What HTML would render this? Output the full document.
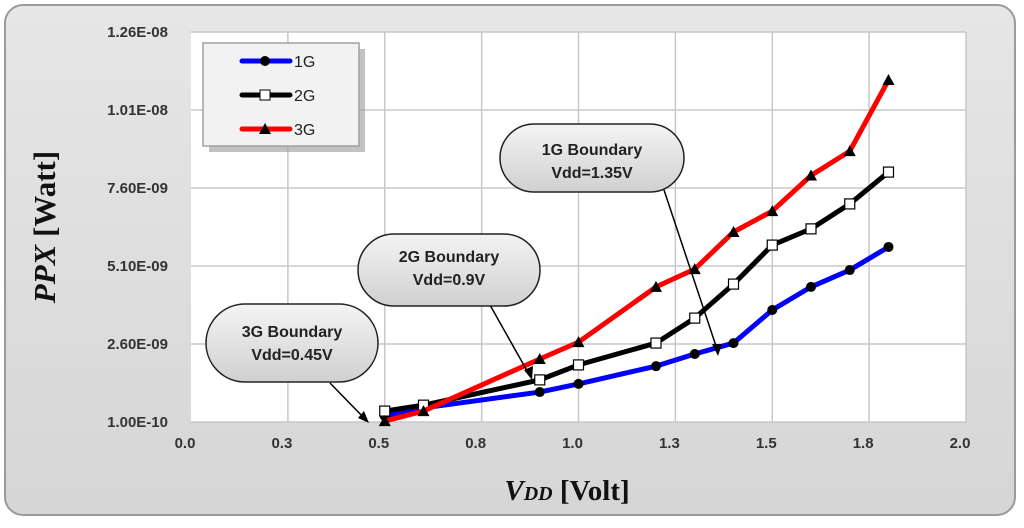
<!DOCTYPE html>
<html><head><meta charset="utf-8"><style>
body{margin:0;background:#fff;width:1024px;height:523px;overflow:hidden;font-family:"Liberation Sans",sans-serif}
</style></head><body>
<svg width="1024" height="523" viewBox="0 0 1024 523">
<defs>
<linearGradient id="bg" x1="0" y1="0" x2="0" y2="1"><stop offset="0" stop-color="#e6e6e6"/><stop offset="1" stop-color="#d6d6d6"/></linearGradient>
<linearGradient id="cb" x1="0" y1="0" x2="0" y2="1"><stop offset="0" stop-color="#f4f4f4"/><stop offset="1" stop-color="#d0d0d0"/></linearGradient>
</defs>
<rect x="5" y="5" width="1010" height="510" rx="18" fill="url(#bg)" stroke="#9a9a9a" stroke-width="2"/>
<rect x="191" y="32" width="775" height="390" fill="#fff"/>
<g id="grid"></g>
<g id="axes"></g>
<g id="series"></g>
<g>
<rect x="206" y="46" width="156" height="103" fill="#9a9a9a" transform="translate(3,3)" opacity="0.6"/>
<rect x="203" y="43" width="156" height="103" fill="#f2f2f2" stroke="#a0a0a0" stroke-width="1.5"/>
<g><line x1="242" y1="61" x2="290" y2="61" stroke="#0000ff" stroke-width="5" stroke-linecap="round"/><circle cx="265" cy="61" r="5" fill="#000"/><text x="294" y="67" font-size="16" fill="#222">1G</text></g>
<g><line x1="242" y1="95" x2="290" y2="95" stroke="#000" stroke-width="5" stroke-linecap="round"/><rect x="260" y="90" width="10" height="10" fill="#fff" stroke="#000"/><text x="294" y="101" font-size="16" fill="#222">2G</text></g>
<g><line x1="242" y1="129" x2="290" y2="129" stroke="#f00" stroke-width="5" stroke-linecap="round"/><polygon points="265,123 271,134 259,134" fill="#000"/><text x="294" y="135" font-size="16" fill="#222">3G</text></g>
</g>
<g font-size="16" font-weight="bold" fill="#222" text-anchor="middle">
<g><line x1="664" y1="190" x2="718" y2="352" stroke="#000" stroke-width="1.5"/><polygon points="718,356 712,344 722,344" fill="#000"/><rect x="500" y="124" width="184" height="68" rx="34" fill="url(#cb)" stroke="#222" stroke-width="1.5"/><text x="592" y="155">1G Boundary</text><text x="592" y="178">Vdd=1.35V</text></g>
<g><line x1="490" y1="305" x2="530" y2="376" stroke="#000" stroke-width="1.5"/><polygon points="532,380 524,370 533,366" fill="#000"/><rect x="358" y="234" width="182" height="72" rx="36" fill="url(#cb)" stroke="#222" stroke-width="1.5"/><text x="449" y="262">2G Boundary</text><text x="449" y="285">Vdd=0.9V</text></g>
<g><line x1="330" y1="383" x2="366" y2="420" stroke="#000" stroke-width="1.5"/><polygon points="369,423 358,418 364,411" fill="#000"/><rect x="206" y="304" width="172" height="78" rx="39" fill="url(#cb)" stroke="#222" stroke-width="1.5"/><text x="292" y="337">3G Boundary</text><text x="292" y="360">Vdd=0.45V</text></g>
</g>
<text x="567" y="500" text-anchor="middle" font-family="Liberation Serif,serif" font-weight="bold" font-size="29" fill="#111"><tspan font-style="italic">V<tspan font-size="20">DD</tspan></tspan> [Volt]</text>
<text transform="translate(55,227) rotate(-90)" text-anchor="middle" font-family="Liberation Serif,serif" font-weight="bold" font-size="31" fill="#111"><tspan font-style="italic">PPX</tspan> [Watt]</text>
</svg>
<script>
const xTicks=[0,0.25,0.5,0.75,1,1.25,1.5,1.75,2];
const xTickLabels=["0.0","0.3","0.5","0.8","1.0","1.3","1.5","1.8","2.0"];
const yTicks=[1e-10,2.6e-9,5.1e-9,7.6e-9,1.01e-8,1.26e-8];
const yTickLabels=["1.00E-10","2.60E-09","5.10E-09","7.60E-09","1.01E-08","1.26E-08"];
const vdd=[0.5,0.6,0.9,1.0,1.2,1.3,1.4,1.5,1.6,1.7,1.8];
const p1G=[0.29e-9,0.55e-9,1.06e-9,1.32e-9,1.89e-9,2.28e-9,2.63e-9,3.69e-9,4.43e-9,4.97e-9,5.71e-9];
const p2G=[0.45e-9,0.64e-9,1.45e-9,1.93e-9,2.63e-9,3.43e-9,4.52e-9,5.77e-9,6.29e-9,7.09e-9,8.11e-9];
const p3G=[0.13e-9,0.45e-9,2.12e-9,2.66e-9,4.43e-9,5.0e-9,6.19e-9,6.86e-9,8.0e-9,8.78e-9,11.06e-9];
const NS='http://www.w3.org/2000/svg';
const X=v=>191+(v/2)*775;
const Y=v=>422-(v-1e-10)/(1.25e-8)*390;
function mk(t,a,p){const e=document.createElementNS(NS,t);for(const k in a)e.setAttribute(k,a[k]);p.appendChild(e);return e;}
const grid=document.getElementById('grid'),axes=document.getElementById('axes'),ser=document.getElementById('series');
xTicks.forEach((t,i)=>{
 if(i>0){const l=mk('line',{x1:X(t),x2:X(t),y1:32,y2:422,stroke:'#c8c8c8','stroke-width':1.5},grid);
 
 }
 const tx=mk('text',{x:X(t)-6,y:448,'text-anchor':'middle','font-size':15,'font-weight':'bold',fill:'#333'},axes);tx.textContent=xTickLabels[i];
 
 
});
yTicks.forEach((t,i)=>{
 const l=mk('line',{x1:191,x2:966,y1:Y(t),y2:Y(t),stroke:'#c8c8c8','stroke-width':1.5},grid);
 
 
 const tx=mk('text',{x:168,y:Y(t)+5,'text-anchor':'end','font-size':15,'font-weight':'bold',fill:'#333'},axes);tx.textContent=yTickLabels[i];
 
 
});
function series(vals,color,marker,name){
 const g=mk('g',{},ser);
 
 
 mk('polyline',{points:vdd.map((v,i)=>X(v)+','+Y(vals[i])).join(' '),fill:'none',stroke:color,'stroke-width':5,'stroke-linejoin':'round'},g);
 vdd.forEach((v,i)=>{const x=X(v),y=Y(vals[i]);let m;
  if(marker==='c')m=mk('circle',{cx:x,cy:y,r:5,fill:'#000'},g);
  else if(marker==='s')m=mk('rect',{x:x-5,y:y-5,width:10,height:10,fill:'#fff',stroke:'#000','stroke-width':1.2},g);
  else m=mk('polygon',{points:`${x},${y-6} ${x+6},${y+5} ${x-6},${y+5}`,fill:'#000'},g);
  
  
 });
}
series(p1G,'#0000ff','c','series-1g');
series(p2G,'#000','s','series-2g');
series(p3G,'#ff0000','t','series-3g');
</script>
</body></html>
